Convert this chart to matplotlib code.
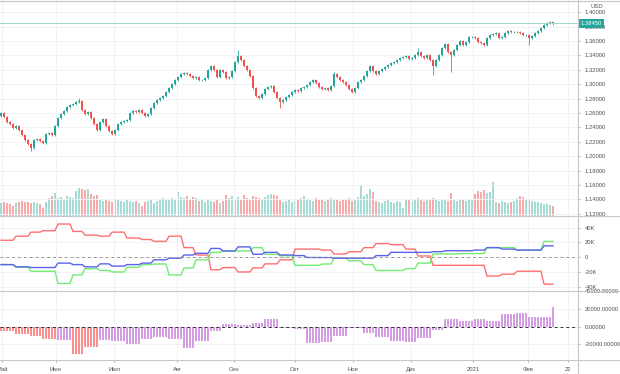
import numpy as np
import matplotlib.pyplot as plt
from matplotlib.lines import Line2D
import matplotlib.transforms as mtransforms

plt.rcParams['font.family'] = ['Liberation Sans', 'DejaVu Sans']

# daily closes (GBP/USD, May 2020 - Feb 2021)
closes = [
    1.2601, 1.2546, 1.2476, 1.2449, 1.2393, 1.2421, 1.2365, 1.2296, 1.2226, 1.2171,
    1.2115, 1.2226, 1.2240, 1.2212, 1.2185, 1.2310, 1.2324, 1.2296, 1.2421, 1.2532,
    1.2588, 1.2629, 1.2685, 1.2713, 1.2726, 1.2754, 1.2768, 1.2643, 1.2588, 1.2615,
    1.2532, 1.2449, 1.2365, 1.2476, 1.2518, 1.2421, 1.2351, 1.2310, 1.2365, 1.2449,
    1.2476, 1.2490, 1.2504, 1.2601, 1.2629, 1.2615, 1.2643, 1.2601, 1.2560, 1.2588,
    1.2671, 1.2740, 1.2782, 1.2810, 1.2838, 1.2893, 1.2949, 1.3004, 1.3060, 1.3101,
    1.3143, 1.3157, 1.3143, 1.3115, 1.3088, 1.3101, 1.3060, 1.3060, 1.3088, 1.3199,
    1.3254, 1.3199, 1.3101, 1.3199, 1.3171, 1.3088, 1.3101, 1.3185, 1.3310, 1.3393,
    1.3338, 1.3254, 1.3199, 1.3115, 1.2949, 1.2838, 1.2810, 1.2865, 1.2935, 1.2963,
    1.2976, 1.2893, 1.2810, 1.2754, 1.2782, 1.2824, 1.2851, 1.2893, 1.2921, 1.2907,
    1.2949, 1.2963, 1.2990, 1.3032, 1.3060, 1.3018, 1.2963, 1.2935, 1.2949, 1.2921,
    1.2976, 1.3143, 1.3101, 1.3060, 1.3032, 1.2990, 1.2935, 1.2893, 1.2949, 1.3032,
    1.3060, 1.3115, 1.3185, 1.3254, 1.3185, 1.3143, 1.3185, 1.3213, 1.3240, 1.3268,
    1.3296, 1.3310, 1.3338, 1.3365, 1.3379, 1.3393, 1.3351, 1.3365, 1.3407, 1.3449,
    1.3393, 1.3365, 1.3407, 1.3338, 1.3254, 1.3338, 1.3407, 1.3504, 1.3560, 1.3449,
    1.3407, 1.3476, 1.3546, 1.3601, 1.3546, 1.3588, 1.3657, 1.3657, 1.3643, 1.3588,
    1.3574, 1.3546, 1.3643, 1.3685, 1.3699, 1.3713, 1.3643, 1.3657, 1.3713, 1.3740,
    1.3726, 1.3726, 1.3726, 1.3713, 1.3685, 1.3685, 1.3643, 1.3671, 1.3713, 1.3740,
    1.3782, 1.3824, 1.3851, 1.3865, 1.3845,
]
first_open = 1.2560
last_price = 1.3845

# a few long wicks
spike_highs = {26: 1.2812, 79: 1.3482, 111: 1.3177, 139: 1.3500, 183: 1.3885}
spike_lows = {10: 1.2075, 93: 1.2676, 144: 1.3134, 150: 1.3171, 176: 1.3546}

volumes = [
    13, 14, 13, 12, 10, 13, 14, 15, 14, 14, 13, 14, 13, 12,
    8, 14, 18, 20, 23,
    18, 19, 17, 20, 19, 18,
    25, 28, 27, 26, 27,
    22, 20, 21,
    16, 15, 17, 15, 14, 16, 17, 15, 14, 16, 15,
    14, 15, 13, 10, 14, 15, 16, 13, 15,
    17, 18, 17, 17, 18, 16, 24,
    19, 18, 20, 17, 19, 18,
    15, 16, 14, 17, 15, 14, 16, 13, 15, 21,
    18, 20, 17, 19, 16, 21, 18, 17, 20, 19, 18, 17, 19, 21, 22, 21, 20,
    16, 14, 15, 17, 14, 15, 16, 18, 20,
    16, 17, 15, 18, 16, 17, 15, 16, 18, 17, 16, 15, 17, 16, 18, 15, 17,
    19, 31, 20, 22, 27,
    24, 15, 14, 13, 15, 16, 14, 13, 15, 14, 8,
    16, 17, 15, 16, 18, 17, 15, 16, 17, 18, 16, 15, 17, 16, 15, 23,
    16, 15, 17, 16, 15, 17, 16,
    22, 25, 24, 26, 23, 24, 34,
    14, 13, 15, 14, 13, 14, 15,
    18, 20, 19, 17,
    16, 15, 14, 14, 13, 12, 12, 11, 10,
]

# weekly net positions, thousands of contracts
red_w = [23, 28.5, 34, 36, 45, 35, 30, 28.5, 34, 26,
         24, 21.5, 28.5, 13, 3, -17, -14, -20, -14.5, -9,
         -3.5, 11, 11, 9.7, 4.4, 7.5, 13, 18.5, 17, 11,
         1.7, -11, -11, -11, -11, -25.5, -23, -19, -19, -36.5]
green_w = [-10, -13.6, -19, -19, -35.6, -24, -15.4, -18, -20, -13.6,
           -10, -9.2, -24, -14.5, -3.5, 6.6, 8.4, 8.4, 13, 4,
           2, -11, -11, -9.2, -1.3, -4.8, -10, -18, -18, -15.4,
           -8, 4.4, 4.4, 5, 5, 13, 13, 9.7, 9.7, 21.5]
blue_w = [-10, -13, -14, -14, -8, -10, -13, -9, -12, -10,
          -8, -3.5, -1.3, 3, 5.3, 11.9, 8.4, 14, 4, 6.6,
          3, 2.2, -0.4, -0.4, -1.3, -1.3, -1.3, 2.2, 6.6, 6.6,
          6.6, 7.5, 8.8, 8.8, 9.7, 13, 11, 9.7, 9.7, 15.4]

# weekly histogram values
hist_w = [-5000, -8800, -10000, -13700, -15200, -30500, -22800, -15200, -16400, -20000,
          -13700, -11400, -13700, -24000, -16400, -5000, 3400, 1900, 4600, 9100,
          -1900, -2300, -18300, -17100, -10700, -1900, -6900, -11800, -16400, -17100,
          -12600, -4200, 8400, 6100, 8400, 6500, 14000, 15200, 11000, 11000]
hist_red_weeks = [0, 1, 2, 3, 5, 6]
hist_last = 22800

month_labels = ["Май", "Июн", "Июл", "Авг", "Сен", "Окт", "Ноя", "Дек", "2021", "Фев", "22"]
month_pos = [0.3, 18.3, 37.7, 58.7, 77.7, 98, 117.3, 136.7, 157.3, 175.7, 189]

UP = '#26a69a'
DOWN = '#ef5350'
TXT = '#505050'
GRID = '#f0f2f6'
SEP = '#c4c7ce'
FS = 4.2

W, H = 620, 374
fig = plt.figure(figsize=(W / 100, H / 100), dpi=100)
axr = 578 / W


def pane(top_px, bot_px):
    ax = fig.add_axes([0, 1 - bot_px / H, axr, (bot_px - top_px) / H])
    for s in ax.spines.values():
        s.set_visible(False)
    ax.set_xticks(month_pos)
    ax.tick_params(axis='x', length=0, labelbottom=False)
    ax.grid(color=GRID, lw=0.7)
    ax.set_axisbelow(True)
    ax.set_xlim(-1 / 3, 578 / 3 - 1 / 3)
    return ax


def right_ticks(ax):
    ax.yaxis.tick_right()
    ax.yaxis.set_label_position('right')
    ax.tick_params(axis='y', left=False, labelleft=False, right=True, labelright=True,
                   labelsize=FS, labelcolor=TXT, color='#a0a0a0',
                   length=1.6, width=0.6, pad=3.0)


ax1 = pane(0, 216)
ax2 = pane(216, 291)
ax3 = pane(291, 360)

n = len(closes)
idx = np.arange(n)
c = np.array(closes)
o = np.array([first_open] + closes[:-1])
up = c >= o
hi = np.maximum(o, c) + 0.0015
lo = np.minimum(o, c) - 0.0015
for k, v in spike_highs.items():
    hi[k] = v
for k, v in spike_lows.items():
    lo[k] = v
cols = np.where(up, UP, DOWN)

# volume in the bottom of the price pane
axv = ax1.twinx()
axv.set_ylim(0, 216)
axv.axis('off')
vcols = np.where(up, '#a6dcd6', '#f8aaa8')
axv.bar(idx, volumes, width=0.72, color=vcols, lw=0)
ax1.set_zorder(axv.get_zorder() + 1)
ax1.patch.set_visible(False)

ax1.vlines(idx, lo, hi, colors=cols, lw=0.6)
ax1.bar(idx, np.maximum(np.abs(c - o), 0.0004), bottom=np.minimum(o, c),
        width=0.62, color=cols, lw=0)
ax1.axhline(last_price, color='#9fd8d2', lw=0.7)
ax1.set_ylim(1.40 - 203.7 / 720, 1.40 + 12.3 / 720)
pt = np.arange(1.12, 1.401, 0.02)
ax1.set_yticks(pt)
ax1.set_yticklabels([f"{v:.5f}" for v in pt])
right_ticks(ax1)

tr = mtransforms.blended_transform_factory(ax1.transAxes, ax1.transData)
ax1.text(1 + 2.5 / 578, last_price, f"{last_price:.5f}", transform=tr, fontsize=FS,
         color='white', ha='left', va='center', clip_on=False,
         bbox=dict(facecolor=UP, edgecolor='none', pad=1.3))
ax1.text(1 + 19 / 578, 1 - 7 / 216, "USD", transform=ax1.transAxes, fontsize=FS,
         color=TXT, ha='center', va='center', clip_on=False)

# weekly series drawn daily
week = idx * len(red_w) // n
ax2.plot(idx, np.array(red_w)[week], color='#ff6f70', lw=1.0)
ax2.plot(idx, np.array(green_w)[week], color='#72ec72', lw=1.0)
ax2.plot(idx, np.array(blue_w)[week], color='#5b63ee', lw=1.0)
ax2.axhline(0, color='#9a9a9a', lw=0.7, ls=(0, (3, 3)))
ax2.set_ylim(-45.8, 55.9)
ax2.set_yticks([-40, -20, 0, 20, 40])
ax2.set_yticklabels(["-40K", "-20K", "0", "20K", "40K"])
right_ticks(ax2)

hist = np.array(hist_w, dtype=float)[week]
hist[-1] = hist_last
hcols = np.where(np.isin(week, hist_red_weeks), '#fb8e8e', '#d59de2')
ax3.bar(idx, hist, width=0.72, color=hcols, lw=0)
ax3.axhline(0, color='#333333', lw=0.7, ls=(0, (3, 3)))
ax3.set_ylim(-37.6e3, 40.3e3)
ht = [-20000, 0, 20000, 40000]
ax3.set_yticks(ht)
ax3.set_yticklabels([f"{v:.5f}" for v in ht])
right_ticks(ax3)
ax3.tick_params(axis='x', labelbottom=True, labelsize=FS, labelcolor=TXT,
                color='#a0a0a0', length=1.6, width=0.6, pad=3.2)
ax3.set_xticklabels(month_labels)

# pane separators and axis lines
for ypx in (1, 216, 291, 360):
    fig.add_artist(Line2D([0, 1], [1 - ypx / H] * 2, color=SEP, lw=0.8))
fig.add_artist(Line2D([axr, axr], [0, 1], color=SEP, lw=0.8))

fig.savefig("out.png", dpi=100)
